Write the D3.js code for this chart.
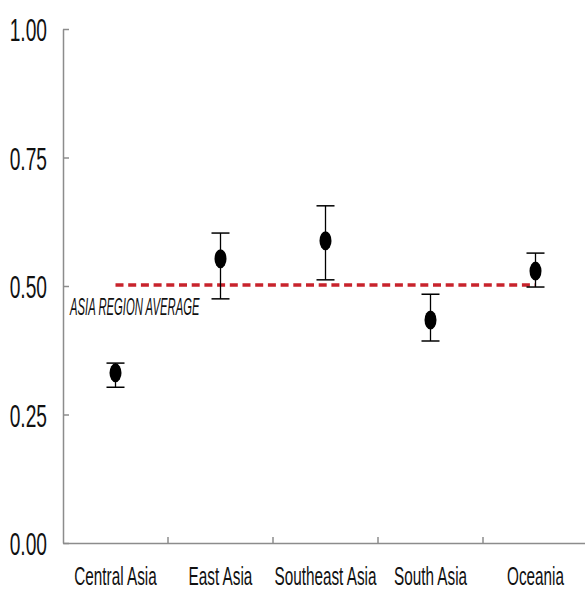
<!DOCTYPE html>
<html><head><meta charset="utf-8">
<script src="https://cdn.jsdelivr.net/npm/d3@7"></script>
<style>body{margin:0;background:#fff}</style>
</head><body>
<svg id="c" width="585" height="590"></svg>
<script>
const categories = ["Central Asia","East Asia","Southeast Asia","South Asia","Oceania"];
const values = [0.331,0.553,0.588,0.434,0.529];
const lower = [0.303,0.475,0.512,0.393,0.498];
const upper = [0.350,0.603,0.656,0.484,0.564];
const average = 0.502;
const yTicks = [0,0.25,0.5,0.75,1];
const avgLabel = "ASIA REGION AVERAGE";

const svg = d3.select("#c");
const L=63, R=588, T=29, B=543;
const font = "'Liberation Sans',Arial,sans-serif";
const x = d3.scaleBand().domain(categories).range([L,R]);
const y = d3.scaleLinear().domain([0,1]).range([B,T]);

// y axis
const ya = svg.append("g").attr("transform",`translate(${L},0)`)
  .call(d3.axisLeft(y).tickValues(yTicks).tickFormat(d3.format(".2f")).tickSizeInner(-6).tickSizeOuter(0));
ya.select(".domain").attr("stroke","#8c8c8c").attr("stroke-width",1.5);
ya.selectAll(".tick line").attr("stroke","#8c8c8c").attr("stroke-width",1.5);
ya.selectAll(".tick text").attr("font-family",font).attr("font-size",32).attr("fill","#111")
  .attr("x",0).attr("dy","0.36em").attr("transform","translate(-16,0) scale(0.6,1)");

// x axis
const xa = svg.append("g").attr("transform",`translate(0,${B})`)
  .call(d3.axisBottom(x).tickSize(0));
xa.select(".domain").attr("stroke","#8c8c8c").attr("stroke-width",1.5);
xa.selectAll(".tick text").attr("font-family",font).attr("font-size",25.5).attr("fill","#111")
  .attr("y",0).attr("dy",0).attr("transform","translate(0,42) scale(0.6,1)");
xa.selectAll(".sep").data(categories.slice(1)).enter().append("line")
  .attr("x1",d=>x(d)).attr("x2",d=>x(d)).attr("y1",0).attr("y2",-6)
  .attr("stroke","#8c8c8c").attr("stroke-width",1.5);

// average line
svg.append("line")
  .attr("x1",x(categories[0])+x.bandwidth()/2)
  .attr("x2",x(categories[categories.length-1])+x.bandwidth()/2)
  .attr("y1",y(average)).attr("y2",y(average))
  .attr("stroke","#c8232c").attr("stroke-width",3.5).attr("stroke-dasharray","8,4.7");
svg.append("text").attr("transform",`translate(70,${y(average)+30}) scale(0.49,1)`)
  .attr("font-family",font).attr("font-style","italic").attr("font-size",23).attr("fill","#111")
  .text(avgLabel);

// error bars
const g = svg.append("g");
categories.forEach((c,i)=>{
  const cx = x(c)+x.bandwidth()/2;
  g.append("line").attr("x1",cx).attr("x2",cx).attr("y1",y(upper[i])).attr("y2",y(lower[i])).attr("stroke","#000").attr("stroke-width",1.3);
  [upper[i],lower[i]].forEach(v=>g.append("line").attr("x1",cx-9).attr("x2",cx+9).attr("y1",y(v)).attr("y2",y(v)).attr("stroke","#000").attr("stroke-width",1.5));
  g.append("ellipse").attr("cx",cx).attr("cy",y(values[i])).attr("rx",6).attr("ry",9.5).attr("fill","#000");
});
</script>
</body></html>
